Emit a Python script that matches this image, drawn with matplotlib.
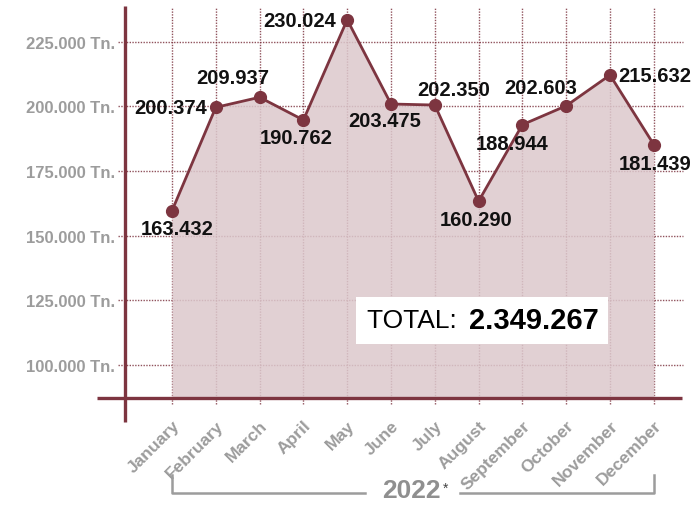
import matplotlib
matplotlib.use("Agg")
import matplotlib.pyplot as plt
import numpy as np

plt.rcParams['font.family'] = ['Liberation Sans', 'DejaVu Sans']

months = ["January", "February", "March", "April", "May", "June", "July",
          "August", "September", "October", "November", "December"]
# plotted point heights (thousand Tn.)
point_values = [159.6, 199.6, 203.5, 194.7, 233.5, 200.9, 200.5,
                163.3, 192.9, 200.2, 212.1, 185.2]
# printed value labels
value_labels = ["163.432", "200.374", "209.937", "190.762", "230.024", "203.475",
                "202.350", "160.290", "188.944", "202.603", "215.632", "181.439"]
y_ticks = [100, 125, 150, 175, 200, 225]
y_tick_labels = ["100.000 Tn.", "125.000 Tn.", "150.000 Tn.", "175.000 Tn.",
                 "200.000 Tn.", "225.000 Tn."]
total_label = "2.349.267"
year_label = "2022"

# label placement (pixels offset, alignment)
label_offsets = [(5, -18, 'center'), (-9, 0, 'right'), (-27, 20, 'center'),
                 (-7, -17, 'center'), (-11, -1, 'right'), (-6, -17, 'center'),
                 (19, 16, 'center'), (-2, -18, 'center'), (-10, -19, 'center'),
                 (-26, 18, 'center'), (8, 0, 'left'), (1, -19, 'center')]

MAROON = '#7d3540'
FILL = '#dcc8cc'
GRAY = '#9c9c9c'

W, H = 694, 506
fig = plt.figure(figsize=(W / 100, H / 100), dpi=100)
ax_l, ax_r, ax_t, ax_b = 125, 682, 7, 399
ax = fig.add_axes([ax_l / W, (H - ax_b) / H, (ax_r - ax_l) / W, (ax_b - ax_t) / H])
x = np.arange(len(months))
dx = 43.8
ppk = 2.585
xlim = ((ax_l - 172) / dx, (ax_r - 172) / dx)
ylim = (225 - (ax_b - 42.7) / ppk, 225 + (42.7 - ax_t) / ppk)
ax.set_xlim(*xlim)
ax.set_ylim(*ylim)

for s in ax.spines.values():
    s.set_visible(False)

# grid
for yv in y_ticks:
    ax.plot([(118 - 172) / dx, (683 - 172) / dx], [yv, yv], color=MAROON,
            lw=1.0, ls=(0, (1, 1)), alpha=0.85, clip_on=False, zorder=1)
for xv in x:
    ax.plot([xv, xv], [ylim[0] - 6 / ppk, ylim[1] - 2 / ppk], color=MAROON,
            lw=1.0, ls=(0, (1, 1)), alpha=0.85, clip_on=False, zorder=1)

ax.fill_between(x, point_values, ylim[0], color=FILL, alpha=0.85, lw=0, zorder=2)
ax.plot(x, point_values, color=MAROON, lw=2, marker='o', ms=8.5, zorder=4)

# axes lines
ax.plot([xlim[0], xlim[0]], [225 - (423 - 42.7) / ppk, ylim[1]], color=MAROON,
        lw=2.4, clip_on=False, zorder=5, solid_capstyle='butt')
ax.plot([(97 - 172) / dx, xlim[1]], [ylim[0], ylim[0]], color=MAROON,
        lw=2.4, clip_on=False, zorder=5, solid_capstyle='butt')

ax.set_yticks(y_ticks)
ax.set_yticklabels(y_tick_labels, fontsize=12, fontweight='bold', color=GRAY)
ax.tick_params(axis='y', length=0, pad=7)
ax.set_xticks(x)
ax.set_xticklabels(months, fontsize=12.5, fontweight='bold', color=GRAY,
                   rotation=45, ha='right', rotation_mode='anchor')
ax.tick_params(axis='x', length=0, pad=14)

for xi, yi, lab, (ox, oy, ha) in zip(x, point_values, value_labels, label_offsets):
    ax.annotate(lab, (xi, yi), xytext=(ox, oy), textcoords='offset pixels',
                ha=ha, va='center', fontsize=14.5, fontweight='bold',
                color='#111111', zorder=6)

# total box
tx0 = (356 - 172) / dx
tx1 = (608 - 172) / dx
ty0 = 225 - (345 - 42.7) / ppk
ty1 = 225 - (298 - 42.7) / ppk
ax.add_patch(plt.Rectangle((tx0, ty0), tx1 - tx0, ty1 - ty0, facecolor='white',
                           edgecolor='none', zorder=7))
tcy = (ty0 + ty1) / 2
ax.text((367 - 172) / dx, tcy, "TOTAL: ", fontsize=19, color='black',
        va='center', ha='left', zorder=8)
ax.text((469 - 172) / dx, tcy, total_label, fontsize=21, fontweight='bold',
        color='black', va='center', ha='left', zorder=8)

# year bracket
by_top = 225 - (476 - 42.7) / ppk
by_bot = 225 - (494 - 42.7) / ppk
ax.plot([x[0], x[0], (365 - 172) / dx], [by_top, by_bot, by_bot], color=GRAY,
        lw=1.8, clip_on=False)
ax.plot([(460 - 172) / dx, x[-1], x[-1]], [by_bot, by_bot, by_top], color=GRAY,
        lw=1.8, clip_on=False)
ax.text((411 - 172) / dx, 225 - (491 - 42.7) / ppk, year_label, fontsize=19,
        fontweight='bold', color='#8f8f8f', ha='center', va='center', clip_on=False)
ax.text((446 - 172) / dx, 225 - (489 - 42.7) / ppk, "*", fontsize=10,
        color='#444444', ha='center', va='center', clip_on=False)

fig.savefig("out.png", dpi=100)
